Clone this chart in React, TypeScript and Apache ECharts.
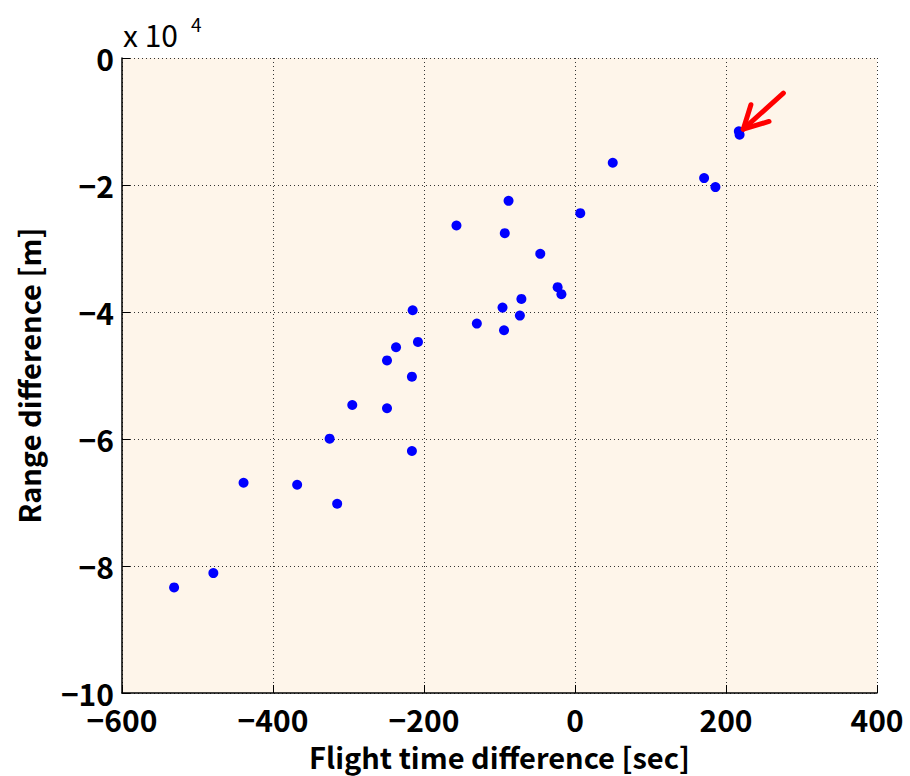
import React, { useEffect, useRef } from "react";
import * as echarts from "echarts";

const flightTimeDiff: number[] = [
  -531, -479, -439, -368, -315, -325, -295, -249, -249, -237, -216, -215, -208, -216,
  -157, -130, -96, -94, -93, -88, -71, -73, -46, -23, -18, 7, 50, 171, 186, 217, 218,
];
const rangeDiff: number[] = [
  -83370, -81120, -66890, -67200, -70200, -59950, -54640, -55160, -47630, -45550, -50180,
  -39720, -44710, -61890, -26380, -41830, -39310, -42870, -27580, -22490, -37940, -40570,
  -30840, -36090, -37190, -24430, -16500, -18910, -20330, -11540, -12090,
];
const arrowShaft: [number, number][] = [[276, -5520], [223, -11190]];
const arrowArm1: [number, number][] = [[233, -7360], [223, -11190]];
const arrowArm2: [number, number][] = [[257, -9990], [223, -11190]];

const FONT = "'Noto Sans CJK JP', 'Noto Sans', sans-serif";

export default function App() {
  const ref = useRef<HTMLDivElement>(null);
  useEffect(() => {
    if (!ref.current) return;
    const chart = echarts.init(ref.current, null, { renderer: "svg" });
    const data = flightTimeDiff.map((x, i) => [x, rangeDiff[i]]);
    const fmt = (v: number) => (v < 0 ? "\u2212" + Math.abs(v) : String(v));
    const arrowLine = (pts: [number, number][]) => [{ coord: pts[0] }, { coord: pts[1] }];
    chart.setOption({
      animation: false,
      backgroundColor: "#ffffff",
      grid: {
        left: 122,
        top: 58,
        right: 33,
        bottom: 83,
        show: true,
        backgroundColor: "#FEF5EA",
        borderWidth: 0,
        containLabel: false,
        outerBoundsMode: "none",
      },
      xAxis: {
        type: "value",
        min: -600,
        max: 400,
        interval: 200,
        name: "Flight time difference [sec]",
        nameLocation: "middle",
        nameGap: 48,
        nameTextStyle: { color: "#000", fontSize: 29, fontWeight: "bold", fontFamily: FONT },
        axisLine: { show: true, onZero: false, lineStyle: { color: "#000", width: 1.5 } },
        axisTick: { show: true, inside: true, length: 8, lineStyle: { color: "#000" } },
        axisLabel: {
          color: "#000",
          fontSize: 30,
          lineHeight: 26,
          fontWeight: "bold",
          fontFamily: FONT,
          margin: 13,
          formatter: fmt,
        },
        splitLine: { show: true, lineStyle: { color: "#333", type: [1, 3], width: 1 } },
      },
      yAxis: {
        type: "value",
        min: -100000,
        max: 0,
        interval: 20000,
        name: "Range difference [m]",
        nameLocation: "middle",
        nameGap: 80,
        nameRotate: 90,
        nameTextStyle: { color: "#000", fontSize: 29, fontWeight: "bold", fontFamily: FONT },
        axisLine: { show: true, onZero: false, lineStyle: { color: "#000", width: 1.5 } },
        axisTick: { show: true, inside: true, length: 8, lineStyle: { color: "#000" } },
        axisLabel: {
          color: "#000",
          fontSize: 30,
          lineHeight: 20,
          fontWeight: "bold",
          fontFamily: FONT,
          margin: 8,
          formatter: (v: number) => fmt(v / 10000),
        },
        splitLine: { show: true, lineStyle: { color: "#333", type: [1, 3], width: 1 } },
      },
      graphic: [
        {
          type: "text",
          left: 123,
          top: 19,
          style: { text: "x 10", fontSize: 30, fontFamily: FONT, fill: "#000" },
        },
        {
          type: "text",
          left: 191,
          top: 14,
          style: { text: "4", fontSize: 19, fontFamily: FONT, fill: "#000" },
        },
      ],
      series: [
        {
          type: "scatter",
          data,
          symbol: "circle",
          symbolSize: 10,
          itemStyle: { color: "#0000FF", opacity: 1 },
          markLine: {
            silent: true,
            symbol: ["none", "none"],
            label: { show: false },
            lineStyle: { color: "#FF0000", width: 5, type: "solid", cap: "round", opacity: 1 },
            data: [arrowLine(arrowShaft), arrowLine(arrowArm1), arrowLine(arrowArm2)],
          },
        },
      ],
    });
    return () => chart.dispose();
  }, []);
  return (
    <div
      ref={ref}
      style={{ position: "absolute", left: 0, top: 0, width: 910, height: 776 }}
    />
  );
}
